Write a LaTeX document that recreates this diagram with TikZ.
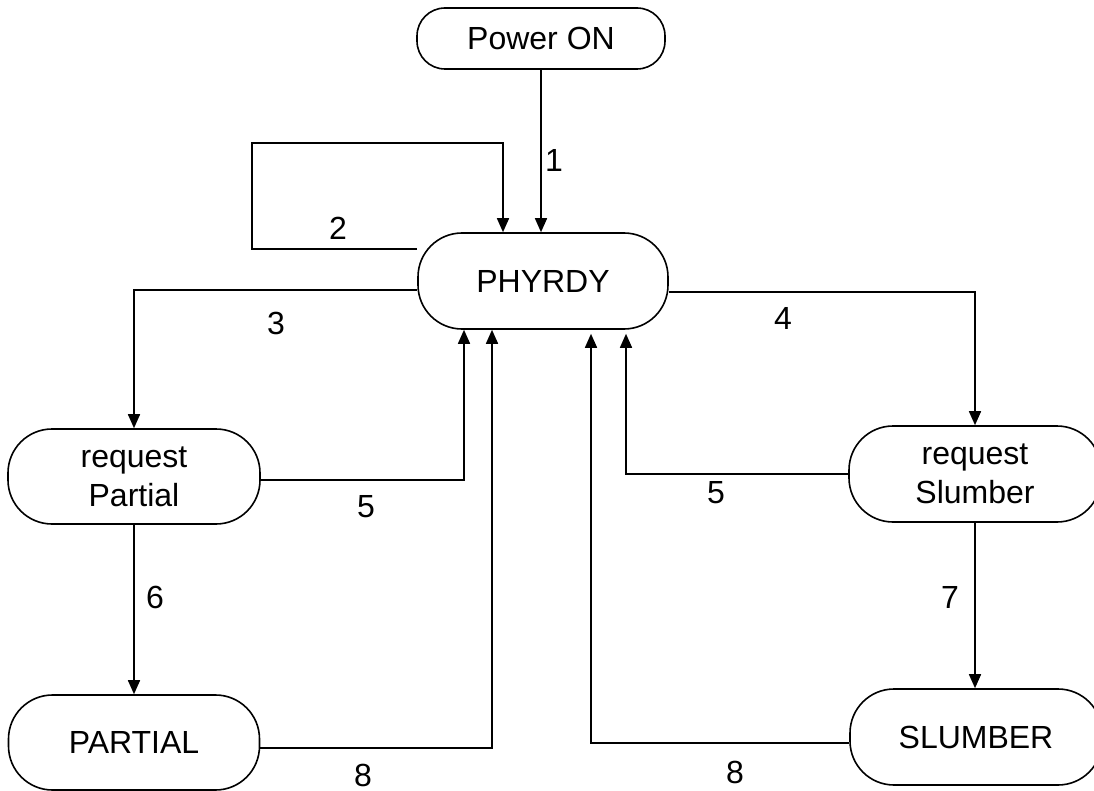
\documentclass[tikz,border=0pt]{standalone}
\usepackage{fontspec}
\setmainfont{Liberation Sans}
\usetikzlibrary{arrows.meta,calc}
\begin{document}
\begin{tikzpicture}[x=1pt,y=-1pt,
  state/.style={draw, line width=1.6pt, rounded corners=44pt, inner sep=0pt, align=center,
    minimum width=252pt, minimum height=95pt, font=\fontsize{32}{39}\selectfont},
  conn/.style={line width=1.6pt, -{Triangle[length=14pt,width=12pt]}},
  lbl/.style={font=\fontsize{32}{38}\selectfont, inner sep=0pt}]
\useasboundingbox (0,0) rectangle (1094,791);
\clip (0,0) rectangle (1094,791);
% states
\node[state, minimum width=248pt, minimum height=61pt, rounded corners=28pt] (on) at (541,38.5) {Power ON};
\node[state, minimum width=250pt, minimum height=96pt] (ph) at (543,281) {PHYRDY};
\node[state] (rp) at (134,476.5) {request\\Partial};
\node[state, minimum height=96pt] (rs) at (975,474) {request\\Slumber};
\node[state, minimum width=251pt] (pa) at (134,742.5) {PARTIAL};
\node[state, minimum height=96pt] (sl) at (976,737) {SLUMBER};
% helper coordinates
\coordinate (c2a) at (252,249);
\coordinate (c2b) at (252,143);
\coordinate (c2c) at (503,143);
\coordinate (c3) at (132,290);
\coordinate (c4) at (976,292);
\coordinate (c5l) at (464,480);
\coordinate (c5r) at (626,474);
\coordinate (c8l) at (492,748);
\coordinate (c8r) at (591,743);
% connectors
\draw[conn] (on.south) -- (on.south |- ph.north);
\draw[conn] (ph.west |- c2a) -- (c2a) -- (c2b) -- (c2c) -- (c2c |- ph.north);
\draw[conn] (ph.west |- c3) -| (rp.north);
\draw[conn] (ph.east |- c4) -| (rs.north);
\draw[conn] (rp.east |- c5l) -- (c5l) -- (c5l |- ph.south);
\draw[conn] (rs.west |- c5r) -- (c5r) -- ($(c5r |- ph.south)+(0,4)$);
\draw[conn] (rp.south) -- (pa.north);
\draw[conn] (rs.south) -- (rs.south |- sl.north);
\draw[conn] (pa.east |- c8l) -- (c8l) -- (c8l |- ph.south);
\draw[conn] (sl.west |- c8r) -- (c8r) -- ($(c8r |- ph.south)+(0,4)$);
% labels
\node[lbl] (l1) at (554,160) {1};
\node[lbl] (l2) at (338,228) {2};
\node[lbl] (l3) at (276,323) {3};
\node[lbl] (l4) at (783,318) {4};
\node[lbl] (l5a) at (366,507) {5};
\node[lbl] (l5b) at (716,493) {5};
\node[lbl] (l6) at (155,597) {6};
\node[lbl] (l7) at (950,597) {7};
\node[lbl] (l8a) at (363,775) {8};
\node[lbl] (l8b) at (735,772) {8};
\end{tikzpicture}
\end{document}
